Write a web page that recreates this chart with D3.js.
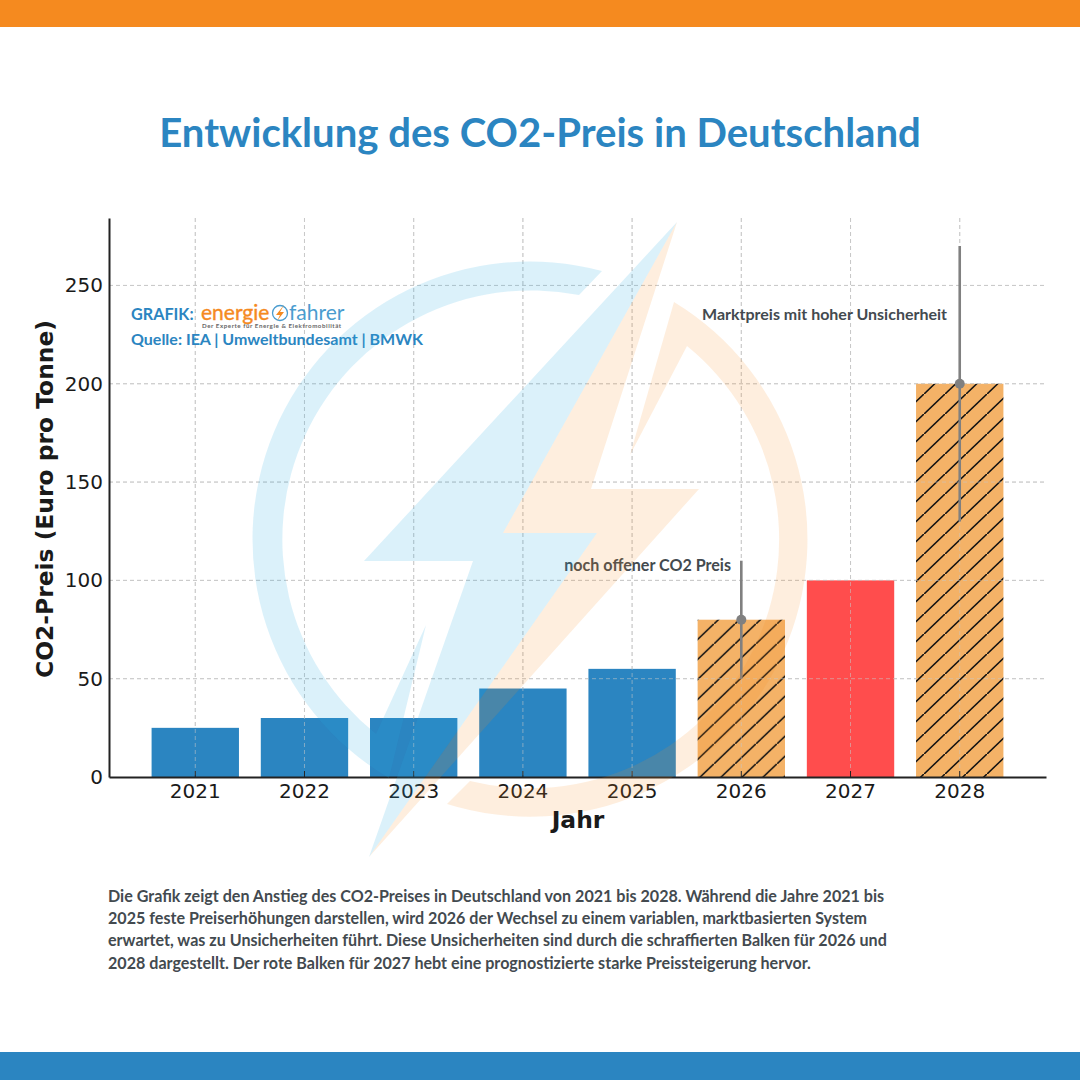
<!DOCTYPE html>
<html>
<head>
<meta charset="utf-8">
<script src="https://cdn.jsdelivr.net/npm/d3@7"></script>
<style>
  html, body { margin: 0; padding: 0; background: #fff; }
  svg { display: block; }
  .lato { font-family: Lato, sans-serif; }
  .dejavu { font-family: "DejaVu Sans", sans-serif; }
</style>
</head>
<body>
<div id="chart-container"></div>
<script>
// Chart data
const years = ['2021', '2022', '2023', '2024', '2025', '2026', '2027', '2028'];
const prices = [25, 30, 30, 45, 55, 80, 100, 200];
const barKinds = ['fixed', 'fixed', 'fixed', 'fixed', 'fixed', 'open', 'forecast', 'open'];
const yTicks = [0, 50, 100, 150, 200, 250];
const rangeYears = ['2026', '2028'];
const rangeLow = [50, 130];
const rangeHigh = [110, 270];
const rangeMid = [80, 200];
const rangeNotes = ['noch offener CO2 Preis', 'Marktpreis mit hoher Unsicherheit'];
const paragraph = [
  'Die Grafik zeigt den Anstieg des CO2-Preises in Deutschland von 2021 bis 2028. Während die Jahre 2021 bis',
  '2025 feste Preiserhöhungen darstellen, wird 2026 der Wechsel zu einem variablen, marktbasierten System',
  'erwartet, was zu Unsicherheiten führt. Diese Unsicherheiten sind durch die schraffierten Balken für 2026 und',
  '2028 dargestellt. Der rote Balken für 2027 hebt eine prognostizierte starke Preissteigerung hervor.'
];

const blue = '#2b85c1';
const orange = '#f58a1f';
const textGrey = '#434a4f';

const svg = d3.select('#chart-container')
  .append('svg')
  .attr('width', 1080)
  .attr('height', 1080);

// Hatch for the uncertain bars, one tile per bar because the phase differs
const defs = svg.append('defs');
const hatchPhase = { '2026': 3.8, '2028': 14 };
Object.keys(hatchPhase).forEach(yr => {
  const hatch = defs.append('pattern')
    .attr('id', `hatch-${yr}`)
    .attr('patternUnits', 'userSpaceOnUse')
    .attr('patternTransform', `translate(0,${hatchPhase[yr]})`)
    .attr('width', 21)
    .attr('height', 20);
  hatch.append('rect').attr('width', 21).attr('height', 20).attr('fill', '#f4b267');
  hatch.append('path')
    .attr('d', 'M-2.1,22 L23.1,-2')
    .attr('stroke', '#111')
    .attr('stroke-width', 1.6);
});

// Header and footer bands
svg.append('rect').attr('width', 1080).attr('height', 27).attr('fill', orange);
svg.append('rect').attr('y', 1052).attr('width', 1080).attr('height', 28).attr('fill', blue);

svg.append('text')
  .attr('class', 'lato')
  .attr('x', 540)
  .attr('y', 147)
  .attr('text-anchor', 'middle')
  .attr('font-size', 40.1)
  .attr('font-weight', 700)
  .attr('fill', blue)
  .text('Entwicklung des CO2-Preis in Deutschland');

// Scales
const plot = { left: 109, right: 1046, top: 218, bottom: 777 };
const x = d3.scaleBand()
  .domain(years)
  .range([plot.left, plot.right])
  .paddingInner(0.2)
  .paddingOuter(0.39);
const y = d3.scaleLinear()
  .domain([0, 284.3])
  .range([plot.bottom, plot.top]);
const cx = d => x(d) + x.bandwidth() / 2;

function drawGrid(opacity) {
  const grid = svg.append('g')
    .attr('stroke', '#c9c9c9')
    .attr('stroke-dasharray', '4 3')
    .attr('opacity', opacity);
  grid.selectAll('.gx').data(years).enter().append('line')
    .attr('x1', cx).attr('x2', cx)
    .attr('y1', plot.top).attr('y2', plot.bottom);
  grid.selectAll('.gy').data(yTicks.slice(1)).enter().append('line')
    .attr('x1', plot.left).attr('x2', plot.right)
    .attr('y1', d => y(d)).attr('y2', d => y(d));
}

drawGrid(1);

// Bars
const barFill = (d, i) => {
  if (barKinds[i] === 'open') return `url(#hatch-${d})`;
  return barKinds[i] === 'forecast' ? '#ff4d4d' : blue;
};
svg.selectAll('.bar')
  .data(years)
  .enter()
  .append('rect')
  .attr('class', 'bar')
  .attr('x', d => x(d))
  .attr('width', x.bandwidth())
  .attr('y', (d, i) => y(prices[i]))
  .attr('height', (d, i) => y(0) - y(prices[i]))
  .attr('fill', barFill);

// Grid shows faintly through the bars
drawGrid(0.55);

// Uncertainty ranges
rangeYears.forEach((yr, i) => {
  svg.append('line')
    .attr('x1', cx(yr)).attr('x2', cx(yr))
    .attr('y1', y(rangeLow[i])).attr('y2', y(rangeHigh[i]))
    .attr('stroke', '#808080')
    .attr('stroke-width', 2.6);
  svg.append('circle')
    .attr('cx', cx(yr)).attr('cy', y(rangeMid[i]))
    .attr('r', 5)
    .attr('fill', '#808080');
});

// Axes
const xAxis = svg.append('g')
  .attr('transform', `translate(0,${plot.bottom})`)
  .call(d3.axisBottom(x).tickSizeInner(-6).tickSizeOuter(0).tickPadding(7));
const yAxis = svg.append('g')
  .attr('transform', `translate(${plot.left},0)`)
  .call(d3.axisLeft(y).tickValues(yTicks).tickSize(0).tickPadding(6));
[xAxis, yAxis].forEach(a => {
  a.selectAll('text')
    .attr('class', 'dejavu')
    .attr('font-size', 20)
    .attr('fill', '#1a1a1a');
  a.selectAll('line').attr('stroke', '#222').attr('stroke-width', 1);
  a.select('.domain').attr('stroke', '#222').attr('stroke-width', 2);
});

// Notes next to the ranges
svg.append('text')
  .attr('class', 'lato')
  .attr('x', 731).attr('y', 570.5)
  .attr('text-anchor', 'end')
  .attr('font-size', 16.1)
  .attr('font-weight', 700)
  .attr('fill', textGrey)
  .text(rangeNotes[0]);
svg.append('text')
  .attr('class', 'lato')
  .attr('x', 947).attr('y', 320)
  .attr('text-anchor', 'end')
  .attr('font-size', 16)
  .attr('font-weight', 700)
  .attr('fill', textGrey)
  .text(rangeNotes[1]);

// Source block with wordmark
const src = svg.append('g').attr('class', 'lato').attr('font-weight', 700);
src.append('text')
  .attr('x', 131).attr('y', 320)
  .attr('font-size', 16.2).attr('fill', blue)
  .text('GRAFIK:');
src.append('text')
  .attr('x', 131).attr('y', 345)
  .attr('font-size', 16).attr('fill', blue)
  .text('Quelle: IEA | Umweltbundesamt | BMWK');
src.append('text')
  .attr('x', 201).attr('y', 320)
  .attr('font-size', 21).attr('font-weight', 400)
  .attr('fill', orange).attr('stroke', orange).attr('stroke-width', 0.4)
  .text('energie');
src.append('text')
  .attr('x', 289).attr('y', 320)
  .attr('font-size', 21).attr('font-weight', 400).attr('fill', '#4a9ccf')
  .text('fahrer');
src.append('circle')
  .attr('cx', 280).attr('cy', 313).attr('r', 7.5)
  .attr('fill', 'none').attr('stroke', '#4a9ccf').attr('stroke-width', 1.3);
src.append('path')
  .attr('d', 'M284,305 L276,315 L280,315 L277,321 L284,312 L280,312 Z')
  .attr('fill', orange);
src.append('text')
  .attr('x', 202).attr('y', 328)
  .attr('font-size', 6.2).attr('letter-spacing', 0.55).attr('fill', '#666')
  .text('Der Experte für Energie & Elektromobilität');

// Watermark logo on top of the bars, split into a blue and an orange half
const wm = svg.append('g').attr('pointer-events', 'none');
const wmBlue = 'rgba(41,171,226,0.17)';
const wmOrange = 'rgba(245,138,31,0.15)';
wm.append('path').attr('fill', wmBlue)
  .attr('d', 'M677,222 L364,561 L473,561 L369,857 L597,533 L503,533 Z');
wm.append('path').attr('fill', wmOrange)
  .attr('d', 'M677,222 L503,533 L597,533 L369,857 L699,489 L591,489 Z');
wm.append('path').attr('fill', wmBlue)
  .attr('d', 'M602,271 A277.5,277.5 0 0 0 389,778 L426,625 L376,734 A249,249 0 0 1 579,295 Z');
wm.append('path').attr('fill', wmOrange)
  .attr('d', 'M674,302 A277.5,277.5 0 0 1 447,804 L470,781 A249,249 0 0 0 687,346 L630,455 Z');

// Axis titles sit above the watermark
svg.append('text')
  .attr('class', 'dejavu')
  .attr('x', 578)
  .attr('y', 828)
  .attr('text-anchor', 'middle')
  .attr('font-size', 23.4)
  .attr('font-weight', 700)
  .attr('fill', '#1a1a1a')
  .text('Jahr');

svg.append('text')
  .attr('class', 'dejavu')
  .attr('transform', 'translate(53,499) rotate(-90)')
  .attr('text-anchor', 'middle')
  .attr('font-size', 23.4)
  .attr('font-weight', 700)
  .attr('fill', '#1a1a1a')
  .text('CO2-Preis (Euro pro Tonne)');

// Explanation below the chart
svg.append('g')
  .attr('class', 'lato')
  .attr('font-size', 16.1)
  .attr('font-weight', 700)
  .attr('fill', textGrey)
  .selectAll('text')
  .data(paragraph)
  .enter()
  .append('text')
  .attr('x', 108)
  .attr('y', (d, i) => 902 + i * 22.2)
  .text(d => d);
</script>
</body>
</html>
